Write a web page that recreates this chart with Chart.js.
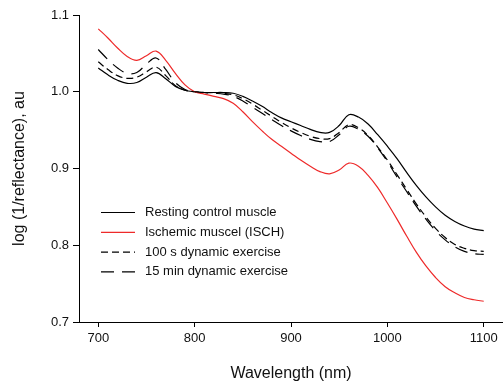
<!DOCTYPE html>
<html>
<head>
<meta charset="utf-8">
<script src="https://cdn.jsdelivr.net/npm/chart.js@4.4.1/dist/chart.umd.min.js"></script>
<style>
  html, body { margin: 0; padding: 0; background: #fff; }
  #c { display: block; }
</style>
</head>
<body>
<canvas id="c" width="503" height="384"></canvas>
<script>
// wavelength grid (nm)
const wavelengths = [700, 710, 720, 730, 740, 750, 760, 770, 780, 790, 800, 810, 820, 830, 840, 850, 860, 870, 880, 890, 900,
    910, 920, 930, 940, 950, 960, 970, 980, 990, 1000, 1010, 1020, 1030, 1040, 1050, 1060, 1070, 1080, 1090, 1100];

// log(1/reflectance) values
const resting = [1.031, 1.022, 1.015, 1.011, 1.012, 1.019, 1.025, 1.017, 1.007, 1.002, 1.000, 0.999, 0.999, 0.999, 0.998, 0.994,
    0.988, 0.981, 0.973, 0.966, 0.961, 0.956, 0.951, 0.947, 0.947, 0.956, 0.970, 0.967, 0.958, 0.944, 0.929,
    0.913, 0.895, 0.878, 0.863, 0.850, 0.839, 0.831, 0.825, 0.821, 0.819];
const ischemic = [1.082, 1.070, 1.057, 1.046, 1.041, 1.047, 1.053, 1.041, 1.024, 1.009, 1.000, 0.997, 0.994, 0.991, 0.985, 0.974,
    0.961, 0.949, 0.938, 0.929, 0.920, 0.911, 0.903, 0.896, 0.893, 0.898, 0.907, 0.903, 0.891, 0.875, 0.855,
    0.834, 0.812, 0.791, 0.773, 0.758, 0.746, 0.738, 0.732, 0.729, 0.727];
const ex100s = [1.039, 1.029, 1.021, 1.0175, 1.019, 1.026, 1.032, 1.021, 1.008, 1.002, 1.000, 0.999, 0.999, 0.998, 0.996, 0.991,
    0.984, 0.976, 0.968, 0.960, 0.953, 0.947, 0.942, 0.939, 0.939, 0.947, 0.957, 0.953, 0.943, 0.928, 0.911,
    0.892, 0.873, 0.854, 0.837, 0.822, 0.810, 0.801, 0.796, 0.793, 0.792];
const ex15min = [1.055, 1.042, 1.031, 1.024, 1.025, 1.036, 1.044, 1.029, 1.012, 1.003, 1.000, 0.999, 0.998, 0.997, 0.994, 0.988,
    0.980, 0.972, 0.964, 0.956, 0.949, 0.943, 0.938, 0.935, 0.935, 0.944, 0.955, 0.951, 0.942, 0.927, 0.909,
    0.889, 0.870, 0.851, 0.834, 0.819, 0.807, 0.798, 0.792, 0.789, 0.788];

const seriesLabels = ['Resting control muscle', 'Ischemic muscel (ISCH)', '100 s dynamic exercise', '15 min dynamic exercise'];
const xTicks = [700, 800, 900, 1000, 1100];
const yTicks = [0.7, 0.8, 0.9, 1.0, 1.1];

const FONT = '"Liberation Sans", Arial, sans-serif';

function toPoints(arr) {
    return arr.map(function(v, i) { return { x: wavelengths[i], y: v }; });
}

function lineSet(label, values, color, dash) {
    return {
        label: label,
        data: toPoints(values),
        borderColor: color,
        borderWidth: 1.2,
        borderDash: dash,
        pointRadius: 0,
        fill: false,
        tension: 0.4
    };
}

// legend drawn inside the plot, lower left
const insideLegend = {
    id: 'insideLegend',
    afterDraw: function(chart) {
        const ctx = chart.ctx;
        ctx.save();
        ctx.font = '13px ' + FONT;
        ctx.textBaseline = 'middle';
        chart.data.datasets.forEach(function(ds, i) {
            const y = 212.5 + i * 19.8;
            ctx.strokeStyle = ds.borderColor;
            ctx.lineWidth = 1.2;
            ctx.setLineDash(ds.borderDash || []);
            ctx.beginPath();
            ctx.moveTo(101, y);
            ctx.lineTo(135, y);
            ctx.stroke();
            ctx.setLineDash([]);
            ctx.fillStyle = '#111';
            ctx.fillText(ds.label, 145, y);
        });
        ctx.restore();
    }
};

const ctx = document.getElementById('c').getContext('2d');
const chart = new Chart(ctx, {
    type: 'line',
    data: {
        datasets: [
            lineSet(seriesLabels[0], resting, '#000000', []),
            lineSet(seriesLabels[1], ischemic, '#ee2a2a', []),
            lineSet(seriesLabels[2], ex100s, '#000000', [7, 4]),
            lineSet(seriesLabels[3], ex15min, '#000000', [13, 8])
        ]
    },
    options: {
        responsive: false,
        animation: false,
        layout: { padding: { top: 15, right: 0, bottom: 0, left: 0 } },
        plugins: {
            legend: { display: false },
            tooltip: { enabled: false }
        },
        scales: {
            x: {
                type: 'linear',
                min: 680,
                max: 1120,
                afterBuildTicks: function(scale) {
                    scale.ticks = xTicks.map(function(v) { return { value: v }; });
                },
                afterFit: function(scale) { scale.height = 62; },
                grid: { drawOnChartArea: false, color: '#000', tickLength: 5, tickWidth: 1 },
                border: { color: '#000', width: 1 },
                ticks: {
                    color: '#111',
                    padding: 4,
                    maxRotation: 0,
                    font: { family: FONT, size: 13 },
                    callback: function(v) { return String(v); }
                },
                title: {
                    display: true,
                    text: 'Wavelength (nm)',
                    color: '#111',
                    font: { family: FONT, size: 16 },
                    padding: { top: 0, bottom: 1 }
                }
            },
            y: {
                type: 'linear',
                min: 0.7,
                max: 1.1,
                afterBuildTicks: function(scale) {
                    scale.ticks = yTicks.map(function(v) { return { value: v }; });
                },
                afterFit: function(scale) { scale.width = 79; },
                grid: { drawOnChartArea: false, color: '#000', tickLength: 6, tickWidth: 1 },
                border: { color: '#000', width: 1 },
                ticks: {
                    color: '#111',
                    padding: 4,
                    font: { family: FONT, size: 13 },
                    callback: function(v) { return Number(v).toFixed(1); }
                },
                title: {
                    display: true,
                    text: 'log (1/reflectance), au',
                    color: '#111',
                    font: { family: FONT, size: 16 },
                    padding: { top: 10, bottom: 0 }
                }
            }
        }
    },
    plugins: [insideLegend]
});
</script>
</body>
</html>
